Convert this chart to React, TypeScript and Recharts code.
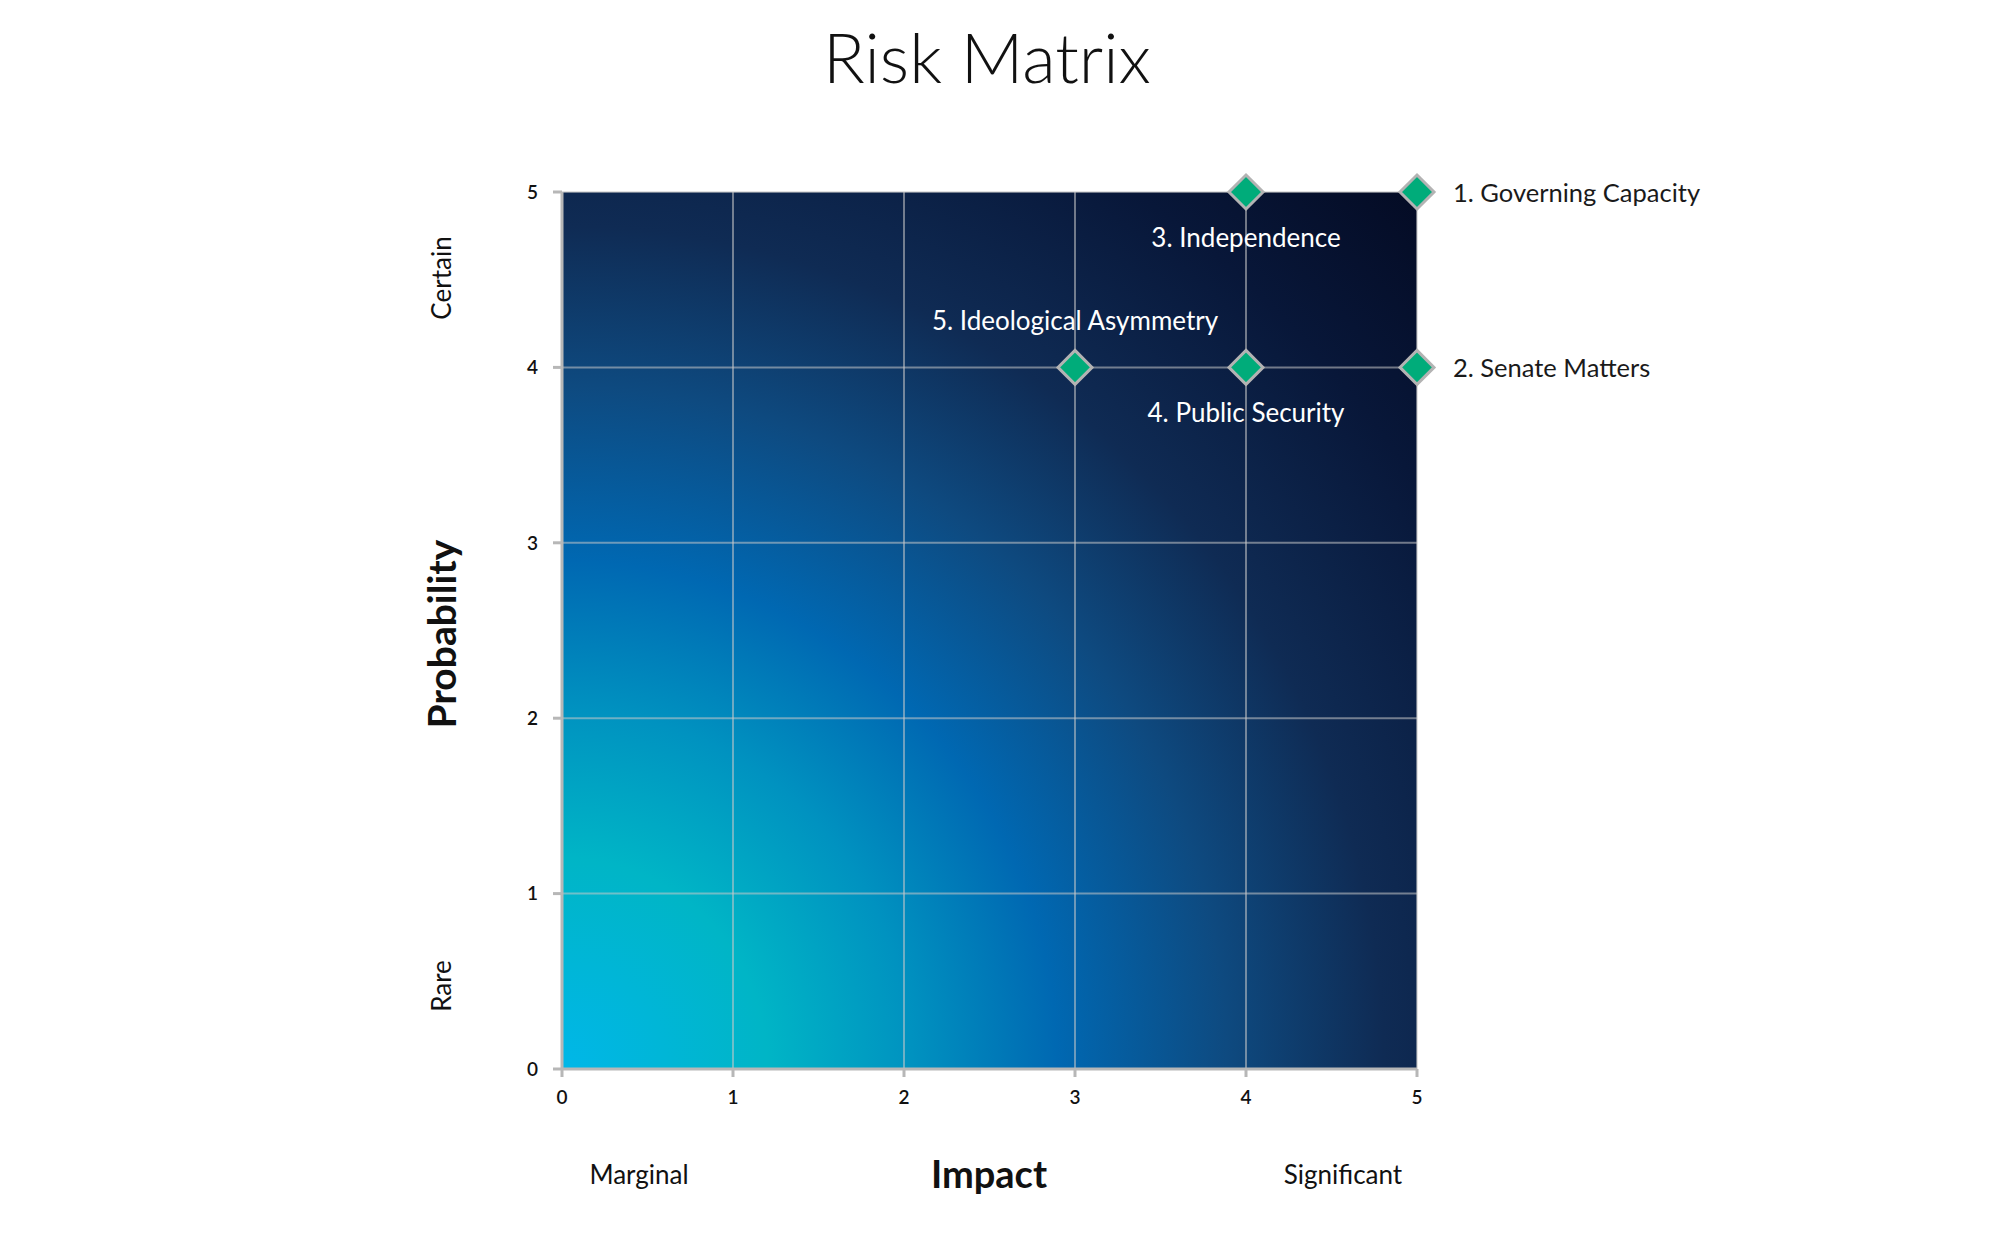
import React from 'react';
import { ScatterChart, Scatter, XAxis, YAxis, CartesianGrid } from 'recharts';

const riskNames = [
  '1. Governing Capacity',
  '2. Senate Matters',
  '3. Independence',
  '4. Public Security',
  '5. Ideological Asymmetry',
];
const impactValues = [5, 5, 4, 4, 3];
const probabilityValues = [5, 4, 5, 4, 4];
const axisTicks = [0, 1, 2, 3, 4, 5];

const data = riskNames.map((name, i) => ({
  name,
  impact: impactValues[i],
  probability: probabilityValues[i],
}));

const FONT = 'Lato, "Open Sans", sans-serif';
const AXIS_GRAY = '#b7b7b7';

// diamond marker plus its caption; caption side depends on where the point sits
function RiskPoint(props: any) {
  const { cx, cy, payload } = props;
  if (cx == null || cy == null) return null;
  const r = 17;
  const atRightEdge = payload.impact === 5;
  const above = payload.impact === 3;
  let label;
  if (atRightEdge) {
    label = (
      <text x={cx + 36} y={cy} dominantBaseline="central" fontSize={25.5} fill="#1a1a1a" fontFamily={FONT}>
        {payload.name}
      </text>
    );
  } else {
    label = (
      <text x={cx} y={above ? cy - 37 : cy + 55} textAnchor="middle" fontSize={26} fill="#ffffff" fontFamily={FONT}>
        {payload.name}
      </text>
    );
  }
  return (
    <g>
      <path
        d={`M${cx},${cy - r} L${cx + r},${cy} L${cx},${cy + r} L${cx - r},${cy} Z`}
        fill="#00ac7a"
        stroke="#b3b3b3"
        strokeWidth={3}
      />
      {label}
    </g>
  );
}

export default function App() {
  return (
    <div style={{ position: 'absolute', left: 0, top: 0, width: 2000, height: 1247, background: '#fff' }}>
      <ScatterChart width={2000} height={1247} margin={{ top: 192, right: 583, bottom: 138, left: 502 }}>
        <defs>
          <radialGradient id="riskGradient" cx="0" cy="1" r="1.414" fx="0" fy="1">
            <stop offset="0" stopColor="#00b7e8" />
            <stop offset="0.17" stopColor="#00b5c6" />
            <stop offset="0.29" stopColor="#0092c0" />
            <stop offset="0.41" stopColor="#0068b2" />
            <stop offset="0.55" stopColor="#0e4a80" />
            <stop offset="0.68" stopColor="#0f2b54" />
            <stop offset="0.85" stopColor="#081739" />
            <stop offset="1" stopColor="#040b24" />
          </radialGradient>
        </defs>
        <CartesianGrid
          fill="url(#riskGradient)"
          fillOpacity={1}
          stroke="rgba(200,200,200,0.55)"
          strokeWidth={2}
        />
        <XAxis
          type="number"
          dataKey="impact"
          domain={[0, 5]}
          ticks={axisTicks}
          interval={0}
          height={40}
          tickSize={8}
          tickMargin={14}
          axisLine={{ stroke: AXIS_GRAY, strokeWidth: 3 }}
          tickLine={{ stroke: AXIS_GRAY, strokeWidth: 3 }}
          tick={{ fill: '#111', fontSize: 19, fontFamily: FONT, fontWeight: 600 }}
        />
        <YAxis
          type="number"
          dataKey="probability"
          domain={[0, 5]}
          ticks={axisTicks}
          interval={0}
          width={60}
          tickSize={9}
          tickMargin={15}
          axisLine={{ stroke: AXIS_GRAY, strokeWidth: 3 }}
          tickLine={{ stroke: AXIS_GRAY, strokeWidth: 3 }}
          tick={{ fill: '#111', fontSize: 19, fontFamily: FONT, fontWeight: 600 }}
        />
        <Scatter data={data} shape={RiskPoint} isAnimationActive={false} />
      </ScatterChart>
      <svg
        width={2000}
        height={1247}
        style={{ position: 'absolute', left: 0, top: 0, pointerEvents: 'none' }}
        fontFamily={FONT}
        fill="#111"
      >
        <text x={987} y={83} textAnchor="middle" fontSize={69} fontWeight={300}>
          Risk Matrix
        </text>
        <text x={989} y={1188} textAnchor="middle" fontSize={38} fontWeight={700}>
          Impact
        </text>
        <text x={639} y={1184} textAnchor="middle" fontSize={26}>
          Marginal
        </text>
        <text x={1343} y={1184} textAnchor="middle" fontSize={26}>
          Significant
        </text>
        <text x={441} y={634} textAnchor="middle" dominantBaseline="central" fontSize={39} fontWeight={700} transform="rotate(-90 441 634)">
          Probability
        </text>
        <text x={441} y={278} textAnchor="middle" dominantBaseline="central" fontSize={26} transform="rotate(-90 441 278)">
          Certain
        </text>
        <text x={441} y={986} textAnchor="middle" dominantBaseline="central" fontSize={26} transform="rotate(-90 441 986)">
          Rare
        </text>
      </svg>
    </div>
  );
}
